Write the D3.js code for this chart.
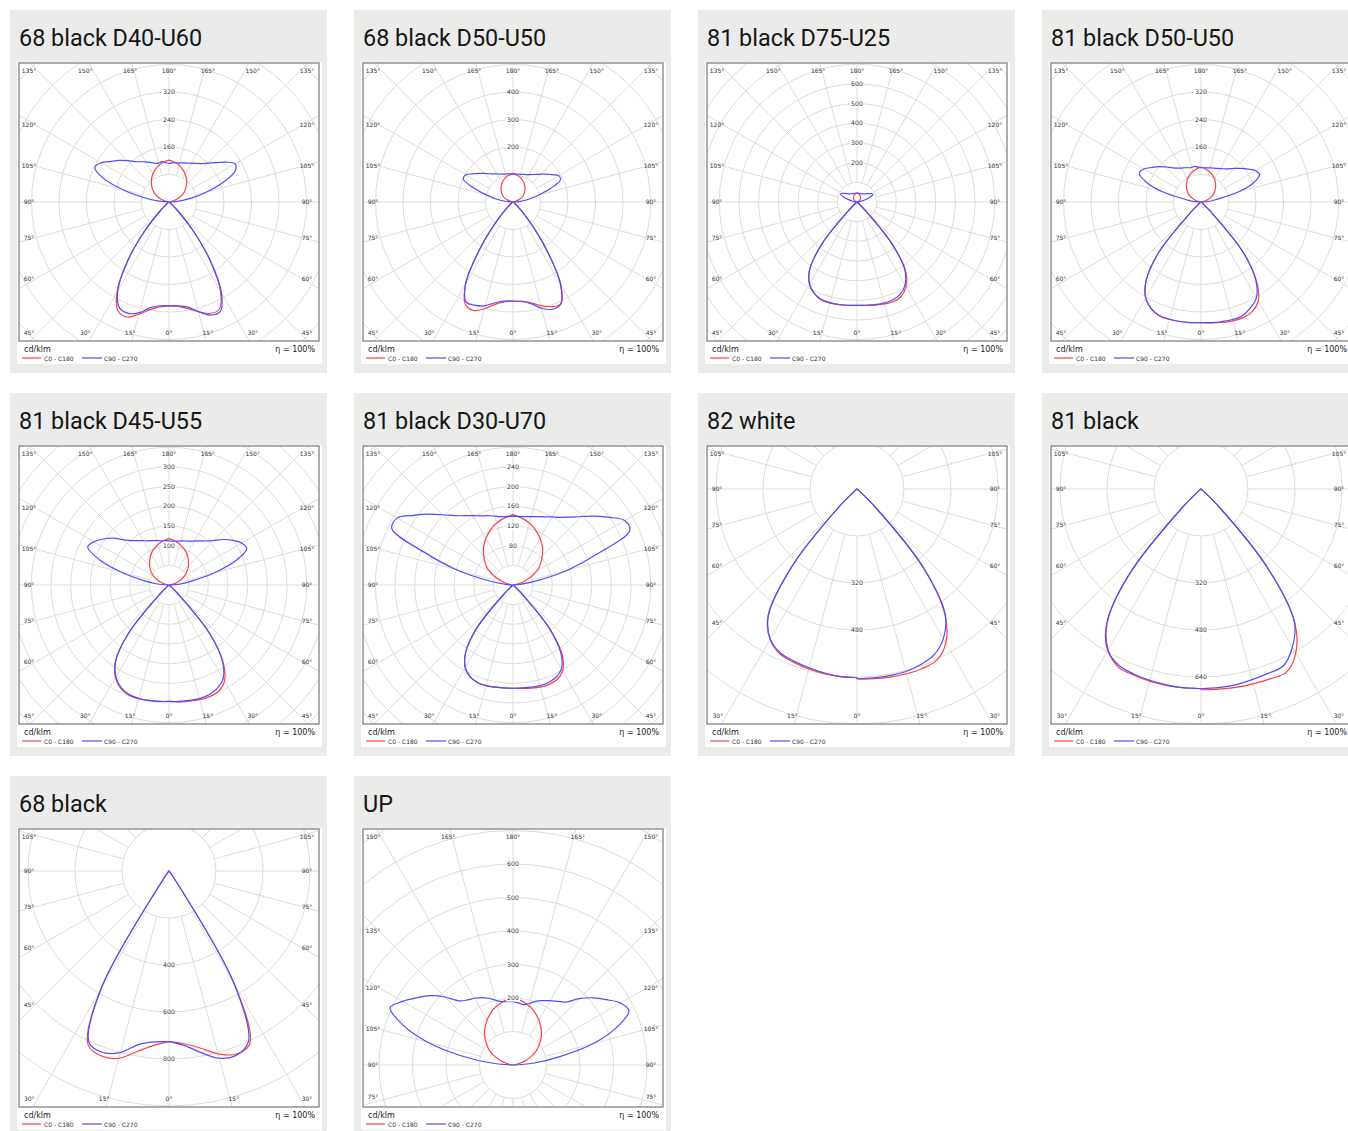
<!DOCTYPE html>
<html>
<head>
<meta charset="utf-8">
<script src="https://cdn.jsdelivr.net/npm/d3@7"></script>
<style>
  body { margin: 0; background: #fff; }
  svg { display: block; }
</style>
</head>
<body>
<div id="chart"></div>
<script>
// gamma angles (0 = straight down, 180 = straight up), 5 degree steps
var GAMMA = d3.range(0, 181, 5);

var titles = ["68 black D40-U60", "68 black D50-U50", "81 black D75-U25", "81 black D50-U50",
              "81 black D45-U55", "81 black D30-U70", "82 white", "81 black",
              "68 black", "UP"];

// cd/klm per grid ring
var ringSteps = [80, 100, 100, 80, 50, 40, 160, 160, 200, 100];

var ringLabels = [
  [160, 240, 320], [200, 300, 400], [200, 300, 400, 500, 600], [160, 240, 320],
  [100, 150, 200, 250, 300], [80, 120, 160, 200, 240], [320, 480], [320, 480, 640],
  [400, 600, 800], [200, 300, 400, 500, 600]
];

var fullAngles = [0, 15, 30, 45, 60, 75, 90, 105, 120, 135, 150, 165, 180];
var downAngles = [0, 15, 30, 45, 60, 75, 90, 105];
var upAngles = [75, 90, 105, 120, 135, 150, 165, 180];
var angleLabels = [fullAngles, fullAngles, fullAngles, fullAngles, fullAngles, fullAngles,
                   downAngles, downAngles, downAngles, upAngles];

// intensities, one value per GAMMA; c0/c90 drawn on the right, c180/c270 on the left
var p1_c0   = [302,305,315,330,345,345,300,210,110,35,10,4,2,1,1,1,0,0,0, 3,6,14,24,36,47,56,64,72,80,87,94,100,106,111,115,119,122];
var p1_c180 = [302,306,318,338,356,350,302,212,110,35,10,4,2,1,1,1,0,0,0, 3,6,14,24,36,47,56,64,72,80,87,94,100,106,111,115,119,122];
var p1_c90  = [302,303,310,330,350,352,305,212,110,35,10,4,2,1,1,1,0,0,0, 30,68,115,168,212,222,202,178,160,146,137,130,125,121,118,116,114,112];
var p1_c270 = [302,303,312,333,345,340,298,210,110,35,10,4,2,1,1,1,0,0,0, 35,75,140,205,238,228,206,188,170,153,143,135,127,120,117,119,115,112];

var p2_c0   = [360,363,372,390,405,410,348,215,100,32,10,4,2,1,1,0,0,0,0, 2,5,12,20,31,40,48,55,61,68,74,80,85,90,95,98,101,104];
var p2_c180 = [360,365,378,402,420,410,345,215,100,32,10,4,2,1,1,0,0,0,0, 2,5,12,20,31,40,48,55,61,68,74,80,85,90,95,98,101,104];
var p2_c90  = [360,363,375,400,415,410,345,215,100,32,10,4,2,1,1,0,0,0,0, 28,58,95,148,190,192,173,158,143,131,122,115,110,107,104,103,102,102];
var p2_c270 = [360,362,372,390,400,402,345,215,100,32,10,4,2,1,1,0,0,0,0, 30,62,100,155,200,198,178,162,147,134,125,118,112,108,105,104,103,102];

var p3_c0   = [525,528,532,537,540,530,498,432,275,52,10,4,2,1,1,0,0,0,0, 1,2,5,8,12,16,19,22,25,28,31,34,37,39,41,43,45,46];
var p3_c180 = [525,527,530,532,530,514,483,420,273,52,10,4,2,1,1,0,0,0,0, 1,2,5,8,12,16,19,22,25,28,31,34,37,39,41,43,45,46];
var p3_c90  = [525,527,530,532,530,518,488,425,273,52,10,4,2,1,1,0,0,0,0, 9,20,40,68,90,86,75,65,58,53,50,48,47,46,46,45,45,45];
var p3_c270 = [525,527,529,530,528,512,482,420,273,52,10,4,2,1,1,0,0,0,0, 10,22,42,70,92,88,76,66,59,54,51,49,47,46,46,45,45,45];

var p4_c0   = [351,353,356,358,358,352,333,282,190,40,7,3,2,1,1,0,0,0,0, 2,5,12,20,30,39,46,53,60,66,72,78,83,88,92,95,99,101];
var p4_c180 = [351,352,353,354,353,343,322,278,190,40,7,3,2,1,1,0,0,0,0, 2,5,12,20,30,39,46,53,60,66,72,78,83,88,92,95,99,101];
var p4_c90  = [351,352,353,354,352,340,322,278,190,40,7,3,2,1,1,0,0,0,0, 26,48,112,162,188,183,167,152,138,126,118,112,108,105,103,101,100,100];
var p4_c270 = [351,352,353,353,352,342,322,278,190,40,7,3,2,1,1,0,0,0,0, 28,50,118,170,198,192,175,160,144,130,120,114,110,106,104,105,102,100];

var p5_c0   = [296,298,300,302,302,298,282,240,160,35,6,2,1,1,0,0,0,0,0, 3,6,14,23,35,45,54,62,70,77,84,91,97,102,107,111,115,118];
var p5_c180 = [296,297,298,299,298,290,272,237,160,35,6,2,1,1,0,0,0,0,0, 3,6,14,23,35,45,54,62,70,77,84,91,97,102,107,111,115,118];
var p5_c90  = [296,297,298,299,297,290,275,237,160,35,6,2,1,1,0,0,0,0,0, 28,60,118,180,218,213,198,180,160,146,137,129,123,119,116,113,112,112];
var p5_c270 = [296,297,298,298,296,288,270,237,160,35,6,2,1,1,0,0,0,0,0, 30,65,125,188,228,220,204,185,162,147,138,130,124,120,117,114,113,112];

var p6_c0   = [210,211,213,215,215,212,202,175,117,25,4,2,1,0,0,0,0,0,0, 4,7,16,28,42,55,66,75,84,94,102,110,117,124,130,135,139,143];
var p6_c180 = [210,210,211,212,211,206,194,168,115,25,4,2,1,0,0,0,0,0,0, 4,7,16,28,42,55,66,75,84,94,102,110,117,124,130,135,139,143];
var p6_c90  = [210,210,211,212,211,207,197,170,115,25,4,2,1,0,0,0,0,0,0, 14,48,112,178,262,262,240,218,197,180,168,160,153,148,144,141,140,140];
var p6_c270 = [210,210,211,212,211,206,194,168,115,25,4,2,1,0,0,0,0,0,0, 15,50,118,188,272,272,247,224,202,184,172,163,155,150,145,141,140,140];

var p7_c0   = [646,648,650,651,650,643,605,522,360,95,5,1,0,0,0,0,0,0,0, 0,0,0,0,0,0,0,0,0,0,0,0,0,0,0,0,0,0];
var p7_c180 = [643,641,638,634,628,620,592,528,345,90,5,1,0,0,0,0,0,0,0, 0,0,0,0,0,0,0,0,0,0,0,0,0,0,0,0,0,0];
var p7_c90  = [644,645,645,643,636,622,588,525,355,95,5,1,0,0,0,0,0,0,0, 0,0,0,0,0,0,0,0,0,0,0,0,0,0,0,0,0,0];
var p7_c270 = [643,641,636,630,624,616,590,526,345,90,5,1,0,0,0,0,0,0,0, 0,0,0,0,0,0,0,0,0,0,0,0,0,0,0,0,0,0];

var p8_c0   = [682,684,686,687,688,688,645,557,360,95,5,1,0,0,0,0,0,0,0, 0,0,0,0,0,0,0,0,0,0,0,0,0,0,0,0,0,0];
var p8_c180 = [680,680,679,677,674,668,632,557,380,95,5,1,0,0,0,0,0,0,0, 0,0,0,0,0,0,0,0,0,0,0,0,0,0,0,0,0,0];
var p8_c90  = [680,679,677,672,668,664,622,555,360,95,5,1,0,0,0,0,0,0,0, 0,0,0,0,0,0,0,0,0,0,0,0,0,0,0,0,0,0];
var p8_c270 = [680,679,677,674,670,662,635,560,385,95,5,1,0,0,0,0,0,0,0, 0,0,0,0,0,0,0,0,0,0,0,0,0,0,0,0,0,0];

var p9_c0   = [726,738,765,805,830,812,560,40,5,1,0,0,0,0,0,0,0,0,0, 0,0,0,0,0,0,0,0,0,0,0,0,0,0,0,0,0,0];
var p9_c180 = [726,745,780,825,838,815,580,40,5,1,0,0,0,0,0,0,0,0,0, 0,0,0,0,0,0,0,0,0,0,0,0,0,0,0,0,0,0];
var p9_c90  = [726,745,785,825,835,800,555,40,5,1,0,0,0,0,0,0,0,0,0, 0,0,0,0,0,0,0,0,0,0,0,0,0,0,0,0,0,0];
var p9_c270 = [726,730,750,800,822,805,575,40,5,1,0,0,0,0,0,0,0,0,0, 0,0,0,0,0,0,0,0,0,0,0,0,0,0,0,0,0,0];

var p10_c0   = [0,0,0,0,0,0,0,0,0,0,0,0,0,0,0,0,0,0,0, 5,10,23,40,59,77,92,105,119,132,143,155,165,175,183,190,196,201];
var p10_c180 = [0,0,0,0,0,0,0,0,0,0,0,0,0,0,0,0,0,0,0, 5,10,23,40,59,77,92,105,119,132,143,155,165,175,183,190,196,201];
var p10_c90  = [0,0,0,0,0,0,0,0,0,0,0,0,0,0,0,0,0,0,0, 60,140,250,330,382,370,340,312,280,245,232,222,212,203,190,183,186,190];
var p10_c270 = [0,0,0,0,0,0,0,0,0,0,0,0,0,0,0,0,0,0,0, 60,155,265,350,405,380,350,322,287,250,237,230,222,212,200,192,190,190];

var curves = [
  [p1_c0, p1_c180, p1_c90, p1_c270], [p2_c0, p2_c180, p2_c90, p2_c270],
  [p3_c0, p3_c180, p3_c90, p3_c270], [p4_c0, p4_c180, p4_c90, p4_c270],
  [p5_c0, p5_c180, p5_c90, p5_c270], [p6_c0, p6_c180, p6_c90, p6_c270],
  [p7_c0, p7_c180, p7_c90, p7_c270], [p8_c0, p8_c180, p8_c90, p8_c270],
  [p9_c0, p9_c180, p9_c90, p9_c270], [p10_c0, p10_c180, p10_c90, p10_c270]
];

// layout of each diagram: distance of the centre below the frame top, pixels per grid ring
var frames = [
  {cy: 139, ringPx: 27.5}, {cy: 139, ringPx: 27.5}, {cy: 139, ringPx: 19.67}, {cy: 139, ringPx: 27.5},
  {cy: 139, ringPx: 19.67}, {cy: 139, ringPx: 19.67}, {cy: 43, ringPx: 47}, {cy: 43, ringPx: 47},
  {cy: 42, ringPx: 47}, {cy: 236, ringPx: 33.5}
];

var RED = "#ff4040", BLUE = "#4d4dff";
var rad = Math.PI / 180;
var labelFont = "DejaVu Sans";

var svg = d3.select("#chart").append("svg").attr("width", 1348).attr("height", 1131);

titles.forEach(function(title, i) {
  var px = 10 + (i % 4) * 344, py = 10 + Math.floor(i / 4) * 383;
  var g = svg.append("g").attr("transform", "translate(" + px + "," + py + ")");

  g.append("rect").attr("width", 317).attr("height", 363).attr("fill", "#ebebea");
  g.append("rect").attr("x", 7).attr("y", 52).attr("width", 305).attr("height", 302).attr("fill", "#fff");
  g.append("text").attr("x", 9).attr("y", 36).text(title)
    .style("font-family", "Roboto").style("font-size", "23.4px").attr("fill", "#161616");

  var bx = 9, by = 53, bw = 300, bh = 278;
  var cx = bx + bw / 2, cy = by + frames[i].cy;
  var down = by + bh - cy, up = cy - by;

  var clipId = "clip" + i;
  g.append("clipPath").attr("id", clipId).append("rect")
    .attr("x", bx).attr("y", by).attr("width", bw).attr("height", bh);

  var r = d3.scaleLinear().domain([0, ringSteps[i]]).range([0, frames[i].ringPx]);
  var maxR = Math.sqrt(150 * 150 + Math.max(up, down) * Math.max(up, down));
  var nRings = Math.ceil(maxR / frames[i].ringPx);

  var plot = g.append("g").attr("clip-path", "url(#" + clipId + ")")
    .append("g").attr("transform", "translate(" + cx + "," + cy + ")");

  plot.selectAll(".ring").data(d3.range(1, nRings + 1).map(function(k) { return k * ringSteps[i]; }))
    .enter().append("circle")
    .attr("r", function(d) { return r(d); })
    .attr("fill", "none").attr("stroke", "#dcdcdc").attr("stroke-width", 1);

  var r0 = r(ringSteps[i]);
  plot.selectAll(".spoke").data(d3.range(0, 360, 15))
    .enter().append("line")
    .attr("x1", function(a) { return r0 * Math.sin(a * rad); })
    .attr("y1", function(a) { return -r0 * Math.cos(a * rad); })
    .attr("x2", function(a) { return maxR * Math.sin(a * rad); })
    .attr("y2", function(a) { return -maxR * Math.cos(a * rad); })
    .attr("stroke", "#dcdcdc").attr("stroke-width", 1);

  var line = d3.lineRadial()
    .angle(function(d) { return d.a; })
    .radius(function(d) { return r(d.v); })
    .curve(d3.curveCatmullRomClosed.alpha(0.5));

  function loop(rightVals, leftVals) {
    var pts = GAMMA.map(function(gm, k) { return {a: Math.PI - gm * rad, v: rightVals[k]}; });
    for (var k = GAMMA.length - 1; k >= 0; k--) {
      pts.push({a: Math.PI + GAMMA[k] * rad, v: leftVals[k]});
    }
    return pts;
  }

  var c = curves[i];
  plot.append("path").attr("d", line(loop(c[0], c[1])))
    .attr("fill", "none").attr("stroke", RED).attr("stroke-width", 1.2);
  plot.append("path").attr("d", line(loop(c[2], c[3])))
    .attr("fill", "none").attr("stroke", BLUE).attr("stroke-width", 1.2);

  // ring value labels along the vertical axis on the side with more room (upwards when equal)
  var dir = up >= down ? -1 : 1;
  var rl = plot.selectAll(".rl").data(ringLabels[i]).enter().append("g")
    .attr("transform", function(d) { return "translate(0," + dir * r(d) + ")"; });
  rl.append("rect").attr("x", -7).attr("y", -3.6).attr("width", 14).attr("height", 7.2).attr("fill", "#fff");
  rl.append("text").attr("text-anchor", "middle").attr("dy", "0.35em").text(function(d) { return d; })
    .style("font-family", labelFont).style("font-size", "6.2px").style("fill", "#333");

  // angle labels at the frame
  var labs = [];
  angleLabels[i].forEach(function(gm) {
    var sides = (gm === 0 || gm === 180) ? [1] : [-1, 1];
    sides.forEach(function(s) {
      var dx = s * Math.sin(gm * rad), dy = Math.cos(gm * rad);
      if (Math.abs(dx) < 1e-9) dx = 0;
      if (Math.abs(dy) < 1e-9) dy = 0;
      var tSide = dx !== 0 ? 150 / Math.abs(dx) : Infinity;
      var tV = dy > 0 ? down / dy : (dy < 0 ? up / -dy : Infinity);
      var x, y;
      if (tV <= tSide) {
        var dist = (dy > 0 ? down : up) + 6;
        x = cx + dx * dist / Math.abs(dy);
        x = Math.max(bx + 10, Math.min(bx + bw - 12, x));
        y = dy > 0 ? by + bh - 8 : by + 8;
      } else {
        y = cy + dy * 134 / Math.abs(dx);
        y = Math.max(by + 8, Math.min(by + bh - 10, y));
        x = dx < 0 ? bx + 10 : bx + bw - 12;
      }
      labs.push({x: x, y: y, t: gm + "\u00b0"});
    });
  });
  g.selectAll(".al").data(labs).enter().append("text")
    .attr("x", function(d) { return d.x; }).attr("y", function(d) { return d.y; })
    .attr("text-anchor", "middle").attr("dy", "0.35em").text(function(d) { return d.t; })
    .style("font-family", labelFont).style("font-size", "6px").style("fill", "#333");

  g.append("rect").attr("x", bx).attr("y", by).attr("width", bw).attr("height", bh)
    .attr("fill", "none").attr("stroke", "#8a8a8a").attr("stroke-width", 1.4);

  // legend
  g.append("text").attr("x", 14).attr("y", 342).text("cd/klm")
    .style("font-family", labelFont).style("font-size", "8px").style("fill", "#222");
  g.append("text").attr("x", 305).attr("y", 342).attr("text-anchor", "end").text("\u03b7 = 100%")
    .style("font-family", labelFont).style("font-size", "8px").style("fill", "#222");
  g.append("line").attr("x1", 12).attr("x2", 31).attr("y1", 348).attr("y2", 348)
    .attr("stroke", RED).attr("stroke-width", 1.2);
  g.append("text").attr("x", 34).attr("y", 350.5).text("C0 - C180")
    .style("font-family", labelFont).style("font-size", "6px").style("fill", "#333");
  g.append("line").attr("x1", 72).attr("x2", 92).attr("y1", 348).attr("y2", 348)
    .attr("stroke", BLUE).attr("stroke-width", 1.2);
  g.append("text").attr("x", 94).attr("y", 350.5).text("C90 - C270")
    .style("font-family", labelFont).style("font-size", "6px").style("fill", "#333");
});
</script>
</body>
</html>
